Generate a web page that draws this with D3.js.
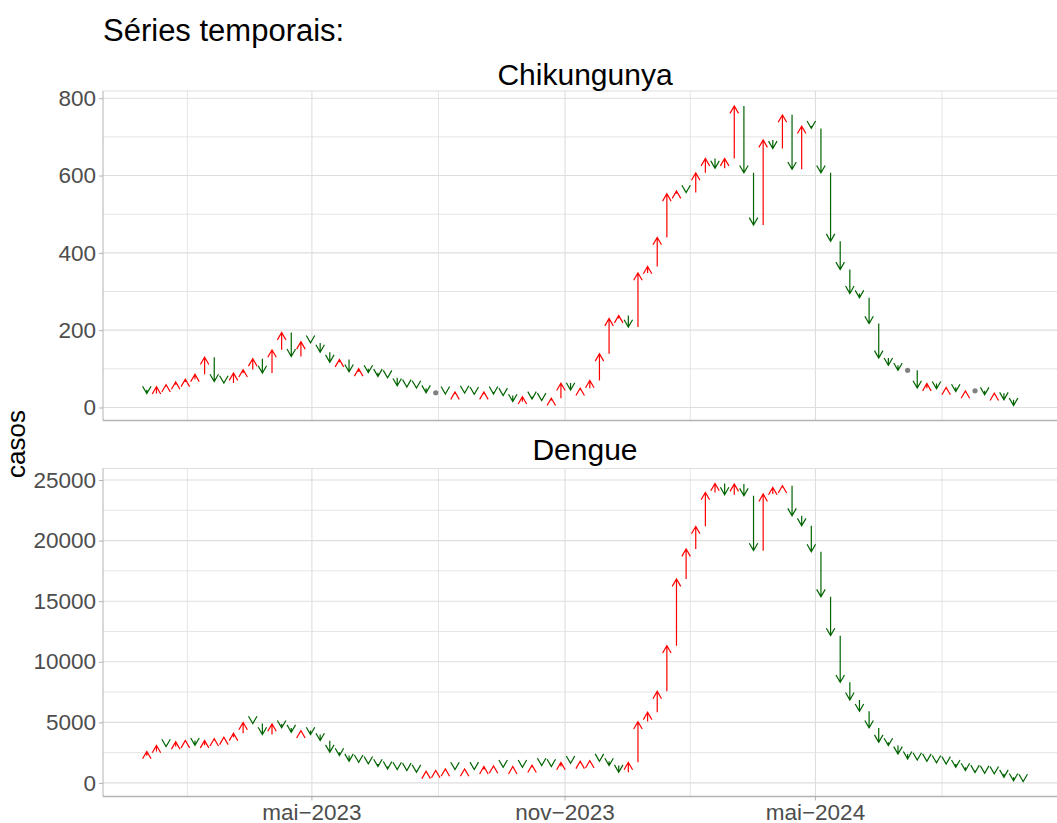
<!DOCTYPE html>
<html>
<head>
<meta charset="utf-8">
<script src="https://cdn.jsdelivr.net/npm/d3@7"></script>
<style>
  body { margin: 0; background: #fff; }
  text { font-family: "Liberation Sans", Arial, Helvetica, sans-serif; }
</style>
</head>
<body>
<svg id="chart" width="1057" height="823"></svg>
<script>
// casos semanais; o 1o valor e a semana anterior ao inicio (so serve de origem da 1a seta)
var primeiraSemana = "2022-12-25";

var chikungunya = [46,
  36, 54, 59, 66, 73, 86, 130, 67, 63, 89,
  98, 126, 89, 149, 194, 132, 170, 167, 143, 117,
  124, 92, 100, 90, 80, 77, 56, 53, 50, 38,
  38, 35, 40, 37, 34, 40, 35, 31, 15, 28,
  22, 18, 24, 63, 45, 50, 70, 139, 230, 238,
  208, 348, 365, 440, 553, 560, 556, 607, 644, 619,
  644, 780, 607, 472, 692, 670, 757, 616, 728, 722,
  607, 430, 357, 295, 284, 217, 128, 109, 96, 96,
  50, 62, 48, 52, 41, 43, 43, 33, 37, 20, 5];

var dengue = [2250,
  2600, 3100, 3000, 3400, 3500, 3100, 3500, 3650, 3770, 4100,
  5000, 4900, 3990, 4870, 4540, 4180, 4320, 3990, 3490, 2530,
  2255, 1790, 1700, 1570, 1350, 1155, 1100, 1030, 880, 960,
  1030, 1155, 1100, 1160, 1110, 1350, 1400, 1290, 1350, 1290,
  1470, 1430, 1350, 1700, 1620, 1790, 1840, 1790, 1430, 880,
  1700, 5060, 5830, 7560, 11330, 16830, 19305, 21175, 23980, 24720,
  23790, 24670, 23700, 19170, 23840, 24390, 24530, 22055, 21230, 19085,
  15370, 12155, 8300, 6850, 5910, 4540, 3355, 3080, 2390, 1980,
  1880, 1790, 1660, 1560, 1290, 1020, 860, 800, 750, 470, 170, 110];

var yTicksChik = [0, 200, 400, 600, 800];
var yTicksDengue = [0, 5000, 10000, 15000, 20000, 25000];
var xTickDatas = ["2022-11-01", "2023-05-01", "2023-11-01", "2024-05-01", "2024-11-01"];
var xTickLabels = ["nov\u22122022", "mai\u22122023", "nov\u22122023", "mai\u22122024", "nov\u22122024"];

var svg = d3.select("#chart");
var parse = d3.utcParse("%Y-%m-%d");
var inicio = parse(primeiraSemana);

var corSobe = "#ff0000", corDesce = "#006400", corIgual = "#808080";
var grade = "#dedede", eixo = "#b3b3b3";

var plotLeft = 103, plotRight = 1067;

var panels = [
  { nome: "Chikungunya", valores: chikungunya, ticks: yTicksChik, top: 91, bottom: 420.5, stripY: 85 },
  { nome: "Dengue", valores: dengue, ticks: yTicksDengue, top: 468.5, bottom: 796.5, stripY: 460 }
];

function semana(i) { return d3.utcWeek.offset(inicio, i); }

// escala x comum (expansao de 5% como no ggplot)
var nMax = d3.max(panels, function(p) { return p.valores.length; });
var t0 = semana(1), t1 = semana(nMax - 1);
var span = t1 - t0;
var x = d3.scaleUtc()
  .domain([new Date(+t0 - 0.05 * span), new Date(+t1 + 0.05 * span)])
  .range([plotLeft, plotRight]);

var xMajor = xTickDatas.map(parse);
var xMinor = [];
for (var i = 1; i < xMajor.length; i++) xMinor.push(new Date((+xMajor[i - 1] + +xMajor[i]) / 2));
var dom = x.domain();
function dentro(d) { return d >= dom[0] && d <= dom[1]; }

function seta(xp, y0, y1) {
  var L = 8.5, a = Math.PI / 6;
  var dir = y1 < y0 ? 1 : -1;
  var hy = y1 + dir * L * Math.cos(a), hx = L * Math.sin(a);
  return "M" + xp + "," + y0 + "L" + xp + "," + y1 +
         "M" + (xp - hx) + "," + hy + "L" + xp + "," + y1 + "L" + (xp + hx) + "," + hy;
}

panels.forEach(function(p, pi) {
  var ext = d3.extent(p.valores);
  var r = ext[1] - ext[0];
  var y = d3.scaleLinear()
    .domain([ext[0] - 0.05 * r, ext[1] + 0.05 * r])
    .range([p.bottom, p.top]);
  var ydom = y.domain();

  var g = svg.append("g");

  // grade menor
  var step = p.ticks[1] - p.ticks[0];
  var yMinor = p.ticks.map(function(t) { return t + step / 2; })
    .concat([p.ticks[0] - step / 2])
    .filter(function(v) { return v >= ydom[0] && v <= ydom[1]; });

  g.selectAll(".ymin").data(yMinor).enter().append("line")
    .attr("x1", plotLeft).attr("x2", plotRight)
    .attr("y1", function(d) { return y(d); }).attr("y2", function(d) { return y(d); })
    .attr("stroke", grade).attr("stroke-width", 0.8);
  g.selectAll(".xmin").data(xMinor.filter(dentro)).enter().append("line")
    .attr("x1", function(d) { return x(d); }).attr("x2", function(d) { return x(d); })
    .attr("y1", p.top).attr("y2", p.bottom)
    .attr("stroke", grade).attr("stroke-width", 0.8);

  // grade maior
  g.selectAll(".ymaj").data(p.ticks).enter().append("line")
    .attr("x1", plotLeft).attr("x2", plotRight)
    .attr("y1", function(d) { return y(d); }).attr("y2", function(d) { return y(d); })
    .attr("stroke", grade).attr("stroke-width", 1.1);
  g.selectAll(".xmaj").data(xMajor.filter(dentro)).enter().append("line")
    .attr("x1", function(d) { return x(d); }).attr("x2", function(d) { return x(d); })
    .attr("y1", p.top).attr("y2", p.bottom)
    .attr("stroke", grade).attr("stroke-width", 1.1);

  // eixos
  g.append("line").attr("x1", plotLeft).attr("x2", plotRight)
    .attr("y1", p.top).attr("y2", p.top).attr("stroke", "#d6d6d6").attr("stroke-width", 0.8);
  g.append("line").attr("x1", plotLeft).attr("x2", plotLeft)
    .attr("y1", p.top).attr("y2", p.bottom).attr("stroke", eixo).attr("stroke-width", 1);
  g.append("line").attr("x1", plotLeft).attr("x2", plotRight)
    .attr("y1", p.bottom).attr("y2", p.bottom).attr("stroke", eixo).attr("stroke-width", 1.4);

  var yAxis = g.append("g").attr("transform", "translate(" + plotLeft + ",0)")
    .call(d3.axisLeft(y).tickValues(p.ticks).tickFormat(d3.format("d")).tickSize(4).tickPadding(3));
  yAxis.select(".domain").remove();
  yAxis.selectAll("line").attr("stroke", eixo);
  yAxis.selectAll("text").attr("fill", "#4d4d4d").style("font-size", "22.5px")
    .style("font-family", "'Liberation Sans', Arial, sans-serif");

  if (pi === panels.length - 1) {
    var xs = xMajor.map(function(d, k) { return { d: d, lab: xTickLabels[k] }; })
      .filter(function(o) { return dentro(o.d); });
    g.selectAll(".xt").data(xs).enter().append("line")
      .attr("x1", function(o) { return x(o.d); }).attr("x2", function(o) { return x(o.d); })
      .attr("y1", p.bottom).attr("y2", p.bottom + 4).attr("stroke", eixo);
    g.selectAll(".xl").data(xs).enter().append("text")
      .attr("x", function(o) { return x(o.d); }).attr("y", p.bottom + 23)
      .attr("text-anchor", "middle").attr("fill", "#4d4d4d").style("font-size", "22.5px")
      .text(function(o) { return o.lab; });
  }

  // titulo da faceta
  svg.append("text").attr("x", (plotLeft + plotRight) / 2).attr("y", p.stripY)
    .attr("text-anchor", "middle").style("font-size", "30px").attr("fill", "#000")
    .text(p.nome);

  // setas semana a semana
  var pares = [];
  for (var k = 1; k < p.valores.length; k++) {
    pares.push({ t: semana(k), de: p.valores[k - 1], para: p.valores[k] });
  }
  g.selectAll(".seta").data(pares.filter(function(d) { return d.para !== d.de; })).enter()
    .append("path")
    .attr("d", function(d) { return seta(x(d.t), y(d.de), y(d.para)); })
    .attr("fill", "none")
    .attr("stroke", function(d) { return d.para > d.de ? corSobe : corDesce; })
    .attr("stroke-width", 1.2)
    .attr("stroke-linejoin", "miter");
  g.selectAll(".igual").data(pares.filter(function(d) { return d.para === d.de; })).enter()
    .append("circle")
    .attr("cx", function(d) { return x(d.t); }).attr("cy", function(d) { return y(d.para); })
    .attr("r", 2.6).attr("fill", corIgual);
});

svg.append("text").attr("x", 103).attr("y", 41).style("font-size", "31px").attr("fill", "#000")
  .text("Séries temporais:");

svg.append("text").attr("transform", "translate(25,444) rotate(-90)")
  .attr("text-anchor", "middle").style("font-size", "26px").attr("fill", "#000")
  .text("casos");
</script>
</body>
</html>
